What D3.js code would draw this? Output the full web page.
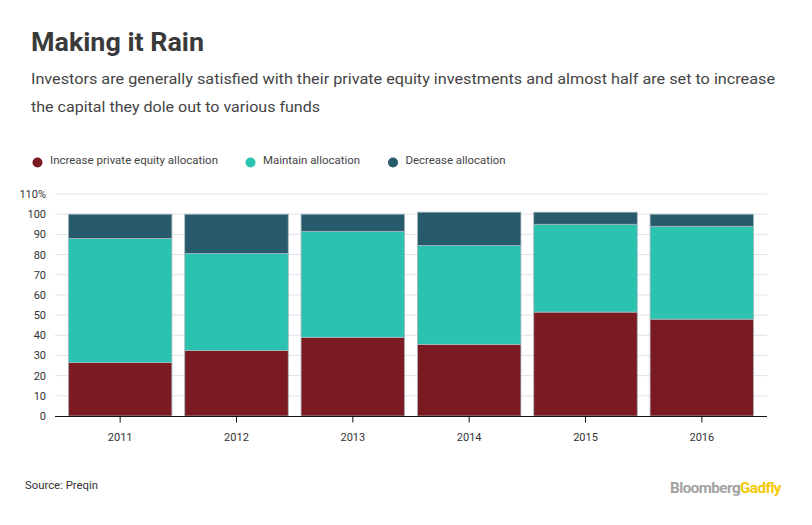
<!DOCTYPE html>
<html><head><meta charset="utf-8">
<script src="https://cdn.jsdelivr.net/npm/d3@7/dist/d3.min.js"></script>
<style>body{margin:0;background:#fff}svg{display:block}</style>
</head><body>
<svg id="c" width="812" height="525"></svg>
<script>
const years = ["2011","2012","2013","2014","2015","2016"];
const seriesNames = ["Increase private equity allocation","Maintain allocation","Decrease allocation"];
const increase = [26.5, 32.5, 39, 35.5, 51.5, 48];
const maintain = [61.5, 48, 52.5, 49, 43.5, 46];
const decrease = [12, 19.5, 8.5, 16.5, 6, 6];
const colors = ["#7b1a21","#2bc2b0","#275a6b"];
const yTicks = [0,10,20,30,40,50,60,70,80,90,100,110];

const svg = d3.select("#c");

svg.append("text").attr("x",31).attr("y",51).text("Making it Rain")
  .attr("font-family","Roboto, Liberation Sans, sans-serif").attr("font-weight",700)
  .attr("font-size",26).attr("fill","#3a3a3a").attr("textLength",173).attr("lengthAdjust","spacingAndGlyphs");
svg.append("text").attr("x",31).attr("y",84)
  .text("Investors are generally satisfied with their private equity investments and almost half are set to increase")
  .attr("font-family","Roboto, sans-serif").attr("font-size",15).attr("fill","#444")
  .attr("textLength",744).attr("lengthAdjust","spacingAndGlyphs");
svg.append("text").attr("x",31).attr("y",112)
  .text("the capital they dole out to various funds")
  .attr("font-family","Roboto, sans-serif").attr("font-size",15).attr("fill","#444")
  .attr("textLength",289).attr("lengthAdjust","spacingAndGlyphs");

// legend
const legX = [37.5, 250.5, 393];
const legW = [168, 97, 100];
seriesNames.forEach((n,i)=>{
  svg.append("circle").attr("cx",legX[i]).attr("cy",162.5).attr("r",5).attr("fill",colors[i]);
  svg.append("text").attr("x",legX[i]+12.5).attr("y",164).text(n)
    .attr("font-family","Roboto, sans-serif").attr("font-size",11).attr("fill","#444")
    .attr("textLength",legW[i]).attr("lengthAdjust","spacingAndGlyphs");
});

const x = d3.scaleBand().domain(years).range([55,767]).paddingInner(0.11).paddingOuter(0.115);
const y = d3.scaleLinear().domain([0,110]).range([416,194]);

// grid
svg.append("g").selectAll("line").data(yTicks.filter(d=>d>0)).join("line")
  .attr("x1",55).attr("x2",767).attr("y1",d=>y(d)).attr("y2",d=>y(d))
  .attr("stroke","#e1e1ea").attr("stroke-width",1);

// y labels
svg.append("g").selectAll("text").data(yTicks).join("text")
  .attr("x",46).attr("y",d=>y(d)+4).attr("text-anchor","end")
  .text(d=>d===110?"110%":d)
  .attr("font-family","Roboto, sans-serif").attr("font-size",11).attr("fill","#333");

// stacked bars
const table = years.map((yr,i)=>({year:yr, a:increase[i], b:maintain[i], c:decrease[i]}));
const stack = d3.stack().keys(["a","b","c"])(table);
stack.forEach((layer,li)=>{
  svg.append("g").selectAll("rect").data(layer).join("rect")
    .attr("x",d=>x(d.data.year)).attr("width",x.bandwidth())
    .attr("y",d=>y(d[1])).attr("height",d=>y(d[0])-y(d[1]))
    .attr("fill",colors[li]).attr("stroke","#a9b8c0").attr("stroke-width",0.8);
});

// x axis
const xa = svg.append("g").attr("transform","translate(0,416.5)");
xa.append("line").attr("x1",55).attr("x2",767).attr("stroke","#111").attr("stroke-width",1.2);
xa.selectAll("line.t").data(years).join("line").attr("class","t")
  .attr("x1",d=>x(d)+x.bandwidth()/2).attr("x2",d=>x(d)+x.bandwidth()/2)
  .attr("y1",0).attr("y2",6).attr("stroke","#111");
xa.selectAll("text").data(years).join("text")
  .attr("x",d=>x(d)+x.bandwidth()/2).attr("y",24).attr("text-anchor","middle").text(d=>d)
  .attr("font-family","Roboto, sans-serif").attr("font-size",11).attr("fill","#333");

svg.append("text").attr("x",25).attr("y",489).text("Source: Preqin")
  .attr("font-family","Roboto, sans-serif").attr("font-size",11).attr("fill","#333")
  .attr("textLength",73).attr("lengthAdjust","spacingAndGlyphs");

const logo = svg.append("text").attr("x",670).attr("y",493)
  .attr("font-family","Roboto, sans-serif").attr("font-weight",700).attr("font-size",14.5)
  .attr("letter-spacing",-0.5).attr("textLength",111).attr("lengthAdjust","spacingAndGlyphs");
logo.append("tspan").text("Bloomberg").attr("fill","#a3a3a3");
logo.append("tspan").text("Gadfly").attr("fill","#f6c800");
</script>
</body></html>
